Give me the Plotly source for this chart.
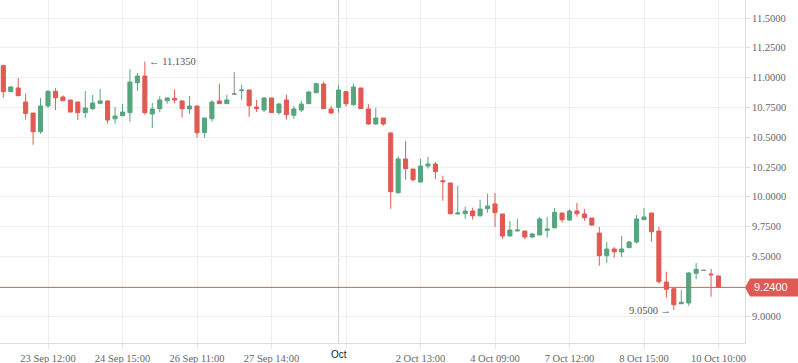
import plotly.graph_objects as go

# ---- data ----
open_ = [11.100, 10.882, 10.913, 10.795, 10.703, 10.546, 10.762, 10.885, 10.837, 10.812,
         10.795, 10.706, 10.739, 10.784, 10.804, 10.655, 10.680, 10.706, 10.957, 11.013,
         10.695, 10.739, 10.806, 10.826, 10.804, 10.737, 10.762, 10.538, 10.655, 10.804,
         10.781, 10.862, 10.890, 10.896, 10.753, 10.728, 10.829, 10.706, 10.812, 10.684,
         10.728, 10.781, 10.873, 10.946, 10.737, 10.751, 10.882, 10.773, 10.913, 10.737,
         10.611, 10.661, 10.535, 10.034, 10.317, 10.233, 10.124, 10.258, 10.275, 10.135,
         10.116, 9.856, 9.858, 9.881, 9.841, 9.900, 9.940, 9.856, 9.671, 9.713,
         9.713, 9.663, 9.680, 9.719, 9.741, 9.864, 9.805, 9.881, 9.856, 9.822,
         9.696, 9.506, 9.562, 9.537, 9.573, 9.621, 9.808, 9.864, 9.713, 9.285,
         9.229, 9.103, 9.109, 9.358, 9.383, 9.352, 9.336]
high = [11.108, 10.929, 10.997, 10.865, 10.703, 10.829, 10.896, 10.913, 10.851, 10.812,
        10.801, 10.888, 10.854, 10.904, 10.810, 10.753, 10.778, 11.070, 11.039, 11.135,
        10.787, 10.843, 10.829, 10.902, 10.812, 10.846, 10.762, 10.661, 10.812, 10.949,
        10.854, 11.047, 10.940, 10.896, 10.812, 10.837, 10.829, 10.787, 10.857, 10.762,
        10.804, 10.888, 10.957, 10.966, 10.762, 10.938, 10.890, 10.949, 10.913, 10.778,
        10.745, 10.661, 10.544, 10.342, 10.468, 10.233, 10.317, 10.336, 10.292, 10.177,
        10.116, 10.091, 9.917, 9.909, 9.976, 10.026, 10.032, 9.856, 9.797, 9.814,
        9.713, 9.696, 9.831, 9.831, 9.906, 9.864, 9.895, 9.948, 9.898, 9.822,
        9.747, 9.621, 9.579, 9.671, 9.629, 9.847, 9.906, 9.864, 9.747, 9.372,
        9.229, 9.218, 9.369, 9.445, 9.383, 9.394, 9.336]
low = [10.831, 10.882, 10.848, 10.647, 10.437, 10.529, 10.747, 10.728, 10.806, 10.711,
       10.644, 10.661, 10.728, 10.778, 10.613, 10.613, 10.680, 10.630, 10.888, 10.689,
       10.577, 10.709, 10.781, 10.784, 10.664, 10.697, 10.496, 10.496, 10.630, 10.781,
       10.781, 10.854, 10.812, 10.672, 10.711, 10.711, 10.706, 10.689, 10.647, 10.655,
       10.711, 10.781, 10.873, 10.739, 10.695, 10.706, 10.756, 10.764, 10.739, 10.605,
       10.605, 10.596, 9.900, 10.026, 10.143, 10.127, 10.118, 10.236, 10.149, 9.967,
       9.858, 9.850, 9.816, 9.808, 9.833, 9.867, 9.747, 9.648, 9.671, 9.713,
       9.646, 9.654, 9.680, 9.657, 9.732, 9.783, 9.799, 9.833, 9.799, 9.755,
       9.422, 9.445, 9.489, 9.495, 9.573, 9.607, 9.808, 9.623, 9.271, 9.154,
       9.050, 9.103, 9.086, 9.308, 9.383, 9.162, 9.235]
close = [10.882, 10.921, 10.848, 10.700, 10.546, 10.762, 10.885, 10.831, 10.806, 10.711,
         10.706, 10.745, 10.787, 10.804, 10.644, 10.678, 10.711, 10.963, 11.013, 10.706,
         10.737, 10.812, 10.829, 10.812, 10.739, 10.762, 10.538, 10.661, 10.795, 10.781,
         10.812, 10.862, 10.896, 10.764, 10.739, 10.829, 10.706, 10.778, 10.689, 10.737,
         10.778, 10.879, 10.949, 10.739, 10.703, 10.896, 10.781, 10.921, 10.739, 10.611,
         10.661, 10.611, 10.043, 10.317, 10.236, 10.143, 10.258, 10.275, 10.211, 10.127,
         9.858, 9.864, 9.881, 9.841, 9.898, 9.923, 9.867, 9.671, 9.721, 9.721,
         9.663, 9.688, 9.814, 9.730, 9.870, 9.808, 9.881, 9.858, 9.825, 9.763,
         9.506, 9.562, 9.539, 9.562, 9.621, 9.814, 9.831, 9.707, 9.288, 9.224,
         9.095, 9.115, 9.361, 9.392, 9.383, 9.346, 9.240]

tick_pos = [6, 16, 26, 36, 46, 56, 66, 76, 86, 96]
tick_text = ["23 Sep 12:00", "24 Sep 15:00", "26 Sep 11:00", "27 Sep 14:00", "",
             "2 Oct 13:00", "4 Oct 09:00", "7 Oct 12:00", "8 Oct 15:00", "10 Oct 10:00"]
month_pos = 45
month_label = "Oct"
y_ticks = [9.0, 9.5, 9.75, 10.0, 10.25, 10.5, 10.75, 11.0, 11.25, 11.5]

GREEN = "#56a57f"
RED = "#e05a53"
GRAY = "#8a8a8a"
GRID = "#eeeeee"
FONT = "Liberation Serif"

x = list(range(len(open_)))
doji = [i for i in x if open_[i] == close[i]]
norm = [i for i in x if i not in doji]

def pick(arr, idx):
    return [arr[i] for i in idx]

fig = go.Figure()
fig.add_trace(go.Candlestick(
    x=pick(x, norm), open=pick(open_, norm), high=pick(high, norm),
    low=pick(low, norm), close=pick(close, norm),
    increasing=dict(line=dict(color=GREEN, width=1), fillcolor=GREEN),
    decreasing=dict(line=dict(color=RED, width=1), fillcolor=RED),
    whiskerwidth=0, hoverinfo="skip", showlegend=False))
fig.add_trace(go.Candlestick(
    x=pick(x, doji), open=pick(open_, doji), high=pick(high, doji),
    low=pick(low, doji), close=pick(close, doji),
    increasing=dict(line=dict(color=GRAY, width=1), fillcolor=GRAY),
    decreasing=dict(line=dict(color=GRAY, width=1), fillcolor=GRAY),
    whiskerwidth=0, hoverinfo="skip", showlegend=False))

W, H = 798, 363
ML, MR, MT, MB = 0, 53, 0, 20
pw, ph = W - ML - MR, H - MT - MB
ymin, ymax = 8.7735, 11.651
xmin, xmax = -0.443, 99.557

last = close[-1]
yc = (last - ymin) / (ymax - ymin)
hh = 9 / ph
tip = 5 / pw
xr = (W - ML) / pw

shapes = [
    dict(type="line", xref="x", yref="paper", x0=month_pos, x1=month_pos, y0=0, y1=1,
         line=dict(color="#d4d4d4", width=1), layer="below"),
    dict(type="line", xref="paper", yref="y", x0=0, x1=1, y0=last, y1=last,
         line=dict(color=RED, width=1), layer="above"),
    dict(type="path", xref="paper", yref="paper",
         path=f"M 1.0,{yc} L {1+tip},{yc+hh} L {xr},{yc+hh} L {xr},{yc-hh} L {1+tip},{yc-hh} Z",
         fillcolor=RED, line=dict(width=0), layer="above"),
]

imax = max(x, key=lambda i: high[i])
imin = min(x, key=lambda i: low[i])
annotations = [
    dict(x=imax, y=high[imax], xref="x", yref="y", text=f"\u2190 {high[imax]:.4f}",
         showarrow=False, xanchor="left", xshift=2, yanchor="middle",
         font=dict(family=FONT, size=10.5, color="#555555")),
    dict(x=imin, y=low[imin], xref="x", yref="y", text=f"{low[imin]:.4f} \u2192",
         showarrow=False, xanchor="right", xshift=-1, yanchor="middle",
         font=dict(family=FONT, size=10.5, color="#555555")),
    dict(x=1 + 26 / pw, y=last, xref="paper", yref="y", text=f"{last:.4f}",
         showarrow=False, xanchor="center", yanchor="middle",
         font=dict(family="Liberation Sans", size=11, color="white")),
    dict(x=month_pos, y=0, xref="x", yref="paper", text=month_label, showarrow=False,
         xanchor="center", yanchor="middle", yshift=-11,
         font=dict(family="Liberation Sans", size=10, color="#222222")),
]

fig.update_layout(
    width=W, height=H, margin=dict(l=ML, r=MR, t=MT, b=MB),
    paper_bgcolor="white", plot_bgcolor="white",
    boxgap=0.45, boxgroupgap=0,
    showlegend=False, shapes=shapes, annotations=annotations,
    font=dict(family=FONT, size=10.5, color="#666666"),
    xaxis=dict(range=[xmin, xmax], tickmode="array", tickvals=tick_pos, ticktext=tick_text,
               showgrid=True, gridcolor=GRID, gridwidth=1, zeroline=False,
               showline=True, linecolor="#dddddd", ticks="outside", ticklen=5,
               tickcolor="#e6e6e6", rangeslider=dict(visible=False), fixedrange=True),
    yaxis=dict(range=[ymin, ymax], side="right", tickmode="array", tickvals=y_ticks,
               tickformat=".4f", showgrid=True, gridcolor=GRID, gridwidth=1, zeroline=False,
               showline=True, linecolor="#dddddd", ticks="outside", ticklen=4,
               tickcolor="#dddddd", fixedrange=True),
)

fig.write_html("out.html", config={"staticPlot": True},
               post_script="document.body.style.margin='0';document.body.style.padding='0';")
